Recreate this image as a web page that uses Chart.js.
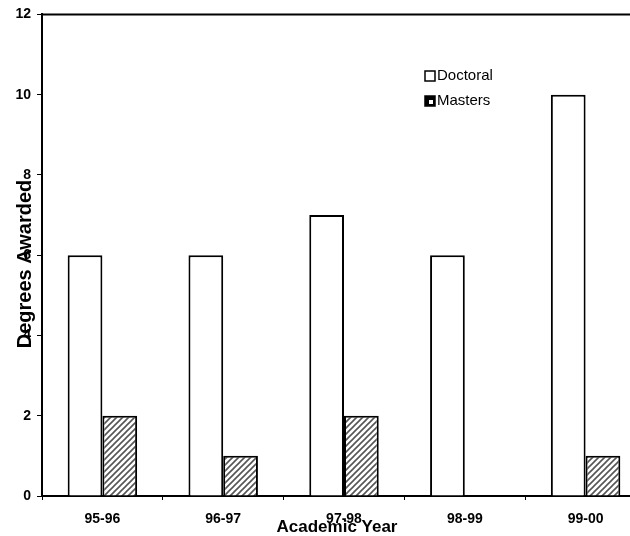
<!DOCTYPE html>
<html lang="en">
<head>
    <meta charset="UTF-8">
    <title>Degrees Awarded</title>
    <script src="https://cdn.jsdelivr.net/npm/chart.js"></script>
    <style>
        html, body {
            margin: 0;
            padding: 0;
            background: #ffffff;
            overflow: hidden;
        }
        .wrap {
            width: 650px;
            height: 536px;
        }
    </style>
</head>
<body>
    <div class="wrap">
        <canvas id="degreesChart" width="650" height="536"></canvas>
    </div>

    <script>
        // data
        const years = ['95-96', '96-97', '97-98', '98-99', '99-00'];
        const doctoral = [6, 6, 7, 6, 10];
        const masters = [2, 1, 2, 0, 1];
        const yTicks = [0, 2, 4, 6, 8, 10, 12];

        const FONT = '"Liberation Sans", Arial, sans-serif';

        // diagonal hatch for the Masters bars
        function hatch() {
            const c = document.createElement('canvas');
            c.width = 6; c.height = 6;
            const g = c.getContext('2d');
            g.fillStyle = '#ffffff';
            g.fillRect(0, 0, 6, 6);
            g.strokeStyle = '#555555';
            g.lineWidth = 1.6;
            g.beginPath();
            g.moveTo(-1, 7); g.lineTo(7, -1);
            g.moveTo(-4, 4); g.lineTo(4, -4);
            g.moveTo(2, 10); g.lineTo(10, 2);
            g.stroke();
            return g.createPattern(c, 'repeat');
        }
        const stripes = hatch();

        // titles, top border and the inside legend
        const decorations = {
            id: 'decorations',
            afterDraw(chart) {
                const ctx = chart.ctx;
                const a = chart.chartArea;
                ctx.save();
                ctx.strokeStyle = '#000';
                ctx.lineWidth = 2;
                ctx.beginPath();
                ctx.moveTo(a.left, a.top);
                ctx.lineTo(chart.width, a.top);
                ctx.stroke();

                ctx.fillStyle = '#000';
                ctx.textAlign = 'center';
                ctx.textBaseline = 'middle';
                ctx.font = 'bold 17px ' + FONT;
                ctx.fillText('Academic Year', 337, 527);
                ctx.font = 'bold 20px ' + FONT;
                ctx.translate(25, 264);
                ctx.rotate(-Math.PI / 2);
                ctx.fillText('Degrees Awarded', 0, 0);
                ctx.restore();

                // legend
                ctx.save();
                ctx.font = '15px ' + FONT;
                ctx.textBaseline = 'middle';
                ctx.textAlign = 'left';
                chart.data.datasets.forEach((ds, i) => {
                    const y = 76 + i * 25;
                    ctx.fillStyle = i === 0 ? '#ffffff' : '#000000';
                    ctx.fillRect(425, y - 5, 10, 10);
                    if (i === 1) {
                        ctx.fillStyle = '#ffffff';
                        ctx.fillRect(429, y - 1, 4, 4);
                    }
                    ctx.strokeStyle = '#000';
                    ctx.lineWidth = 1.5;
                    ctx.strokeRect(425, y - 5, 10, 10);
                    ctx.fillStyle = '#000';
                    ctx.fillText(ds.label, 437, y);
                });
                ctx.restore();
            }
        };

        const ctx1 = document.getElementById('degreesChart').getContext('2d');
        new Chart(ctx1, {
            type: 'bar',
            data: {
                labels: years,
                datasets: [{
                    label: 'Doctoral',
                    data: doctoral,
                    backgroundColor: '#ffffff',
                    borderColor: '#000000',
                    borderWidth: 2,
                    borderSkipped: 'bottom'
                }, {
                    label: 'Masters',
                    data: masters,
                    backgroundColor: stripes,
                    borderColor: '#000000',
                    borderWidth: 2,
                    borderSkipped: 'bottom'
                }]
            },
            options: {
                responsive: false,
                animation: false,
                devicePixelRatio: 1,
                layout: { padding: { top: 14, right: 4, left: 0, bottom: 0 } },
                datasets: {
                    bar: { categoryPercentage: 0.575, barPercentage: 1.0 }
                },
                plugins: {
                    legend: { display: false },
                    tooltip: { enabled: false }
                },
                scales: {
                    x: {
                        grid: {
                            drawOnChartArea: false,
                            tickLength: 4,
                            color: '#000',
                            offset: true
                        },
                        border: { color: '#000', width: 2 },
                        ticks: {
                            color: '#000',
                            padding: 11,
                            font: { family: FONT, size: 14, weight: 'bold' }
                        },
                        afterFit(s) { s.height = 40; }
                    },
                    y: {
                        min: 0,
                        max: 12,
                        afterBuildTicks(s) { s.ticks = yTicks.map(v => ({ value: v })); },
                        grid: {
                            drawOnChartArea: false,
                            tickLength: 5,
                            color: '#000'
                        },
                        border: { color: '#000', width: 2 },
                        ticks: {
                            color: '#000',
                            padding: 6,
                            font: { family: FONT, size: 14, weight: 'bold' }
                        },
                        afterFit(s) { s.width = 42; }
                    }
                }
            },
            plugins: [decorations]
        });
    </script>
</body>
</html>
